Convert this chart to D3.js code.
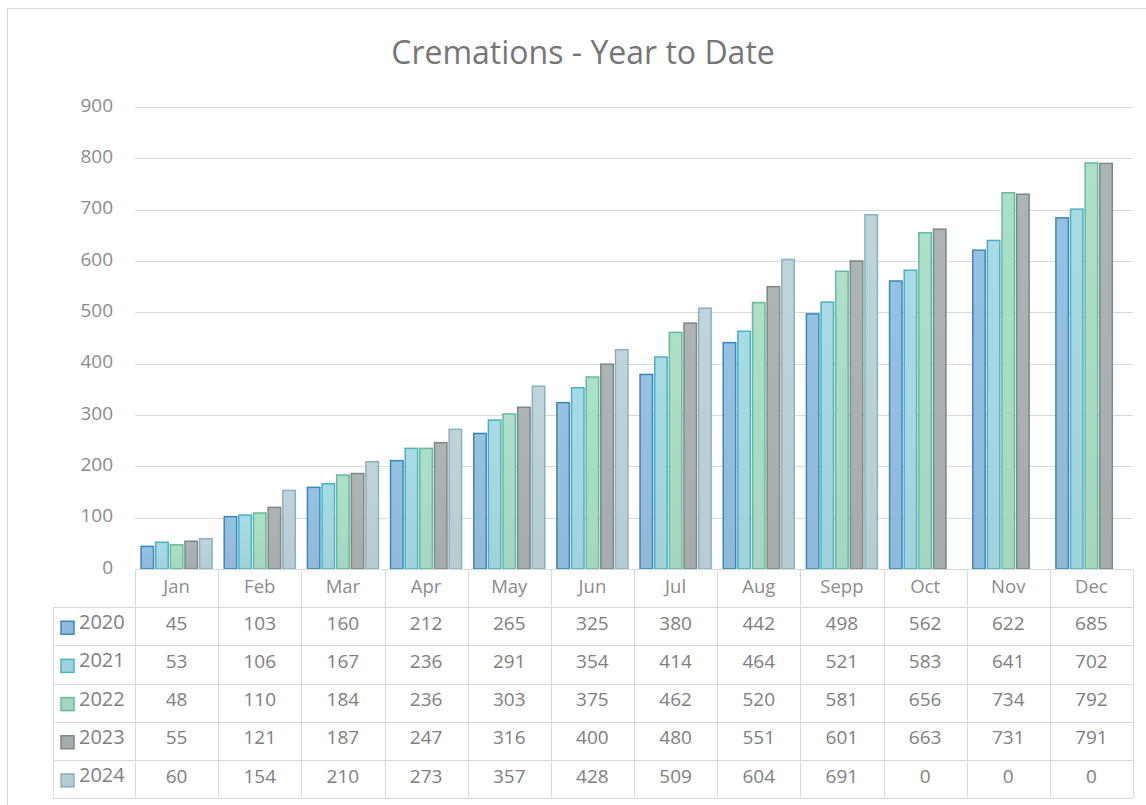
<!DOCTYPE html>
<html>
<head>
<meta charset="utf-8">
<script src="https://cdn.jsdelivr.net/npm/d3@7"></script>
<style>
  body { margin: 0; background: #fff; }
  text { font-family: "Open Sans", "Noto Sans", sans-serif; }
</style>
</head>
<body>
<div id="chart"></div>
<script>
const months = ["Jan", "Feb", "Mar", "Apr", "May", "Jun", "Jul", "Aug", "Sepp", "Oct", "Nov", "Dec"]
const years = ["2020", "2021", "2022", "2023", "2024"]
const v2020 = [45, 103, 160, 212, 265, 325, 380, 442, 498, 562, 622, 685]
const v2021 = [53, 106, 167, 236, 291, 354, 414, 464, 521, 583, 641, 702]
const v2022 = [48, 110, 184, 236, 303, 375, 462, 520, 581, 656, 734, 792]
const v2023 = [55, 121, 187, 247, 316, 400, 480, 551, 601, 663, 731, 791]
const v2024 = [60, 154, 210, 273, 357, 428, 509, 604, 691, 0, 0, 0]
const yTicks = [0, 100, 200, 300, 400, 500, 600, 700, 800, 900]

const series = [v2020, v2021, v2022, v2023, v2024]
const fills = ["#8fb9d9", "#a0d2dc", "#a6d6c1", "#a6acae", "#b6ccd4"]
const strokes = ["#3889b9", "#4cb0c3", "#64bb99", "#7b8889", "#8cb0bd"]

const width = 1146, height = 805

const svg = d3.select("#chart").append("svg")
    .attr("width", width)
    .attr("height", height)

svg.append("rect")
    .attr("x", 7.5)
    .attr("y", 8.5)
    .attr("width", 1160)
    .attr("height", 900)
    .attr("fill", "#fff")
    .attr("stroke", "#d9d9d9")

// gradients for the bars
const defs = svg.append("defs")
years.forEach((yr, i) => {
    const g = defs.append("linearGradient")
        .attr("id", "grad" + yr)
        .attr("x1", 0).attr("y1", 0).attr("x2", 0).attr("y2", 1)
    g.append("stop").attr("offset", "0%").attr("stop-color", d3.color(fills[i]).brighter(0.12))
    g.append("stop").attr("offset", "100%").attr("stop-color", fills[i])
})

svg.append("text")
    .attr("x", 583)
    .attr("y", 64)
    .attr("text-anchor", "middle")
    .attr("font-size", 32)
    .attr("fill", "#767676")
    .text("Cremations - Year to Date")

const x = d3.scaleBand()
    .domain(months)
    .range([135, 1133])

const xs = d3.scaleBand()
    .domain(years)
    .range([0, x.bandwidth()])
    .paddingInner(0.08)
    .paddingOuter(0.38)

const y = d3.scaleLinear()
    .domain([0, 900])
    .range([569, 107])

// gridlines
svg.append("g")
    .selectAll("line")
    .data(yTicks)
    .join("line")
    .attr("x1", 135)
    .attr("x2", 1133)
    .attr("y1", d => Math.round(y(d)) + 0.5)
    .attr("y2", d => Math.round(y(d)) + 0.5)
    .attr("stroke", "#d9d9d9")

const yAxis = svg.append("g")
    .attr("transform", "translate(135,0)")
    .call(d3.axisLeft(y).tickValues(yTicks).tickSize(0).tickPadding(22))
yAxis.select(".domain").remove()
yAxis.selectAll("text")
    .attr("font-size", 19)
    .attr("dy", "0.22em")
    .attr("fill", "#8c8c8c")
    .style("font-family", "'Open Sans', sans-serif")

// bars
years.forEach((yr, i) => {
    svg.append("g")
        .selectAll("rect")
        .data(series[i])
        .join("rect")
        .attr("x", (d, j) => x(months[j]) + xs(yr) + 0.5)
        .attr("y", d => y(d) + 0.5)
        .attr("width", xs.bandwidth() - 1)
        .attr("height", d => Math.max(0, y(0) - y(d) - 0.5))
        .attr("fill", "url(#grad" + yr + ")")
        .attr("stroke", d => d > 0 ? strokes[i] : "none")
        .attr("stroke-width", 1.5)
})

// data table
const rows = d3.scaleBand()
    .domain(["head"].concat(years))
    .range([569, 798])

const gridColor = "#d9d9d9"
const table = svg.append("g")

// horizontal lines
table.selectAll(".hline")
    .data(["head"].concat(years))
    .join("line")
    .attr("x1", d => d === "head" ? 135 : 53)
    .attr("x2", 1133)
    .attr("y1", d => Math.round(rows(d)) + 0.5)
    .attr("y2", d => Math.round(rows(d)) + 0.5)
    .attr("stroke", gridColor)
table.append("line")
    .attr("x1", 53).attr("x2", 1133)
    .attr("y1", Math.round(rows.range()[1]) + 0.5)
    .attr("y2", Math.round(rows.range()[1]) + 0.5)
    .attr("stroke", gridColor)

// vertical lines
table.selectAll(".vline")
    .data(months.concat(["end"]))
    .join("line")
    .attr("x1", d => Math.round(d === "end" ? 1133 : x(d)) + 0.5)
    .attr("x2", d => Math.round(d === "end" ? 1133 : x(d)) + 0.5)
    .attr("y1", 569)
    .attr("y2", 798)
    .attr("stroke", gridColor)
table.append("line")
    .attr("x1", 53.5).attr("x2", 53.5)
    .attr("y1", rows("2020"))
    .attr("y2", 798)
    .attr("stroke", gridColor)

// month headers
table.selectAll(".month")
    .data(months)
    .join("text")
    .attr("x", d => x(d) + x.bandwidth() / 2)
    .attr("y", rows("head") + rows.bandwidth() / 2 - 2)
    .attr("dy", "0.35em")
    .attr("text-anchor", "middle")
    .attr("font-size", 18.5)
    .attr("fill", "#8c8c8c")
    .text(d => d)

// legend keys and years
years.forEach((yr, i) => {
    const cy = rows(yr) + rows.bandwidth() / 2
    table.append("rect")
        .attr("x", 61)
        .attr("y", cy - 5)
        .attr("width", 13)
        .attr("height", 13)
        .attr("fill", fills[i])
        .attr("stroke", strokes[i])
        .attr("stroke-width", 1.5)
    table.append("text")
        .attr("x", 79)
        .attr("y", cy - 4)
        .attr("dy", "0.35em")
        .attr("font-size", 20)
        .attr("fill", "#808080")
        .text(yr)
    table.append("g")
        .selectAll("text")
        .data(series[i])
        .join("text")
        .attr("x", (d, j) => x(months[j]) + x.bandwidth() / 2)
        .attr("y", cy - 3)
        .attr("dy", "0.35em")
        .attr("text-anchor", "middle")
        .attr("font-size", 19)
        .attr("fill", "#808080")
        .text(d => d)
})
</script>
</body>
</html>
